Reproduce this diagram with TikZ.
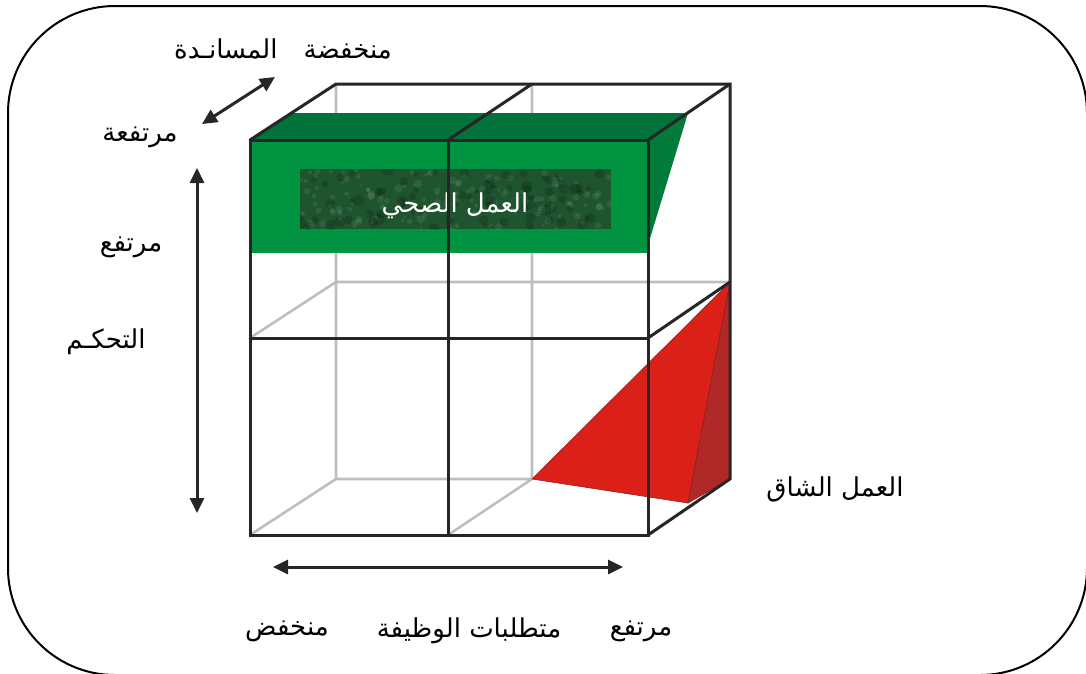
\documentclass[tikz,border=0pt]{standalone}
\usepackage{fontspec}
\newfontfamily\arabicfont[Script=Arabic]{DejaVu Sans}
\TeXXeTstate=1
\usetikzlibrary{arrows.meta}
\definecolor{greenfront}{RGB}{0,147,64}
\definecolor{greentop}{RGB}{0,114,58}
\definecolor{greenside}{RGB}{0,123,58}
\definecolor{greenbox}{RGB}{30,84,46}
\definecolor{redfront}{RGB}{218,32,24}
\definecolor{redside}{RGB}{176,40,40}
\definecolor{hidden}{RGB}{190,190,190}
\begin{document}
\begin{tikzpicture}[x=1pt,y=-1pt,
  label/.style={font=\fontsize{26}{30}\selectfont\arabicfont,inner sep=0pt},
  edge/.style={line width=3pt,black!85,line cap=round},
  backedge/.style={line width=2.6pt,hidden},
  axis/.style={line width=3pt,black!85,{Triangle[length=15pt,width=14pt]}-{Triangle[length=15pt,width=14pt]}}]
\useasboundingbox (0,0) rectangle (1086,673);
\clip (0,0) rectangle (1086,673);
\fill[white] (0,0) rectangle (1086,673);
\draw[line width=2pt,rounded corners=107pt] (8,6) rectangle (1087,675);
\coordinate (f00) at (250,140);
\coordinate (f10) at (448,140);
\coordinate (f20) at (648,140);
\coordinate (f01) at (250,338);
\coordinate (f11) at (448,338);
\coordinate (f21) at (648,338);
\coordinate (f02) at (250,535);
\coordinate (f12) at (448,535);
\coordinate (f22) at (648,535);
\coordinate (b00) at (336,84);
\coordinate (b10) at (532,84);
\coordinate (b20) at (730,84);
\coordinate (b01) at (336,282);
\coordinate (b21) at (730,282);
\coordinate (b02) at (336,479);
\coordinate (b12) at (532,479);
\coordinate (b22) at (730,479);
\coordinate (r0) at (688,503);
\draw[backedge] (b00) -- (b02) (b10) -- (b12) (b01) -- (b21) (b02) -- (b12) (f01) -- (b01) (f02) -- (b02) (f12) -- (b12);
\fill[greenfront] (250,140) rectangle (648,253);
\fill[greentop] (f00) -- (291,113) -- (688,113) -- (f20) -- cycle;
\fill[greenside] (f20) -- (688,113) -- (648,245) -- cycle;
\fill[greenbox] (300,169) rectangle (611,229);
\begin{scope}
\clip (300,169) rectangle (611,229);
\pgfmathsetseed{7}
\foreach \i in {1,...,160}
  \fill[white,opacity=0.08] ({300+311*rnd},{169+60*rnd}) circle ({1+3*rnd});
\foreach \i in {1,...,80}
  \fill[black,opacity=0.15] ({300+311*rnd},{169+60*rnd}) circle ({2+4*rnd});
\end{scope}
\node[label,text=white] (healthy) at (455,206) {\beginR العمل الصحي\endR};
\filldraw[fill=redfront,draw=redside!80!black,line width=0.6pt] (b12) -- (b21) -- (r0) -- cycle;
\filldraw[fill=redside,draw=redside!80!black,line width=0.6pt] (b21) -- (b22) -- (r0) -- cycle;
\draw[edge] (f00) rectangle (f22);
\draw[edge] (f10) -- (f12) (f01) -- (f21);
\draw[edge] (f00) -- (b00) -- (b20) -- (b22) -- (f22);
\draw[edge] (f10) -- (b10) (f20) -- (b20) (f21) -- (b21);
\coordinate (dA) at (202,124);
\coordinate (dB) at (275,77);
\coordinate (vA) at (197,168);
\coordinate (vB) at (197,513);
\coordinate (hA) at (273,567);
\coordinate (hB) at (623,567);
\draw[axis] (dA) -- (dB);
\draw[axis] (vA) -- (vB);
\draw[axis] (hA) -- (hB);
\node[label] (support) at (283,49) {\beginR منخفضة\quad المسانـدة\endR};
\node[label] (supporthigh) at (140,137) {\beginR مرتفعة\endR};
\node[label] (controlhigh) at (131,247) {\beginR مرتفع\endR};
\node[label] (control) at (106,342) {\beginR التحكـم\endR};
\node[label] (strain) at (835,489) {\beginR العمل الشاق\endR};
\node[label] (demandhigh) at (641,631) {\beginR مرتفع\endR};
\node[label] (demand) at (469,631) {\beginR متطلبات الوظيفة\endR};
\node[label] (demandlow) at (287,631) {\beginR منخفض\endR};
\end{tikzpicture}
\end{document}
